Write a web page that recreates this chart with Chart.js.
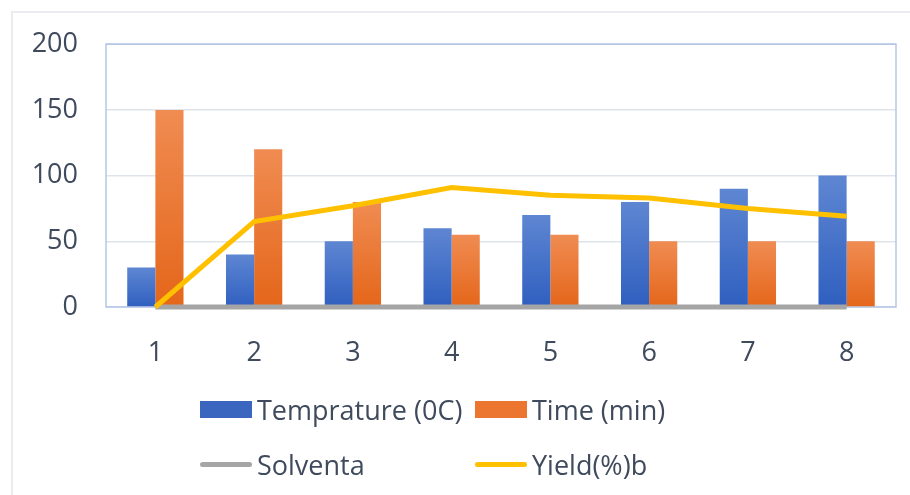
<!DOCTYPE html>
<html>
<head>
<meta charset="utf-8">
<script src="https://cdn.jsdelivr.net/npm/chart.js@4.4.0/dist/chart.umd.min.js"></script>
<style>
  html, body { margin: 0; padding: 0; background: #fff; }
  #wrap { position: relative; width: 910px; height: 495px; overflow: hidden; }
  #frame { position: absolute; left: 11px; top: 11px; width: 920px; height: 520px;
           border: 2px solid #e9ebef; box-sizing: border-box; }
  #chart { position: absolute; left: 0; top: 0; }
  #legend { position: absolute; left: 200px; top: 390px; display: grid;
            grid-template-columns: 275px auto; row-gap: 17px;
            font-family: "Open Sans", sans-serif; font-size: 27px; color: #3f4a5c; }
  .item { display: flex; align-items: center; height: 38px; }
  .swatch { width: 52px; margin-right: 5px; }
</style>
</head>
<body>
<div id="wrap">
  <div id="frame"></div>
  <canvas id="chart" width="910" height="495"></canvas>
  <div id="legend"></div>
</div>
<script>
const categories = ["1", "2", "3", "4", "5", "6", "7", "8"];
const temperature = [30, 40, 50, 60, 70, 80, 90, 100];
const time = [150, 120, 80, 55, 55, 50, 50, 50];
const solventa = [0, 0, 0, 0, 0, 0, 0, 0];
const yieldPct = [0, 65, 77, 91, 85, 83, 75, 69];
const yTicks = [0, 50, 100, 150, 200];

const textColor = "#3f4a5c";

// degradado vertical por barra (claro arriba, oscuro abajo)
function barGradient(light, dark, base) {
  return (ctx) => {
    const chart = ctx.chart;
    const area = chart.chartArea;
    if (!area || ctx.raw === undefined || !chart.scales.y) return base;
    const top = chart.scales.y.getPixelForValue(ctx.raw);
    if (!Number.isFinite(top) || top >= area.bottom) return base;
    const g = chart.ctx.createLinearGradient(0, top, 0, area.bottom);
    g.addColorStop(0, light);
    g.addColorStop(1, dark);
    return g;
  };
}

const plotBorder = {
  id: "plotBorder",
  beforeDatasetsDraw(chart) {
    const { ctx, chartArea: a } = chart;
    ctx.save();
    ctx.strokeStyle = "#b4c6e6";
    ctx.lineWidth = 1.5;
    ctx.strokeRect(a.left, a.top, a.right - a.left, a.bottom - a.top);
    ctx.restore();
  }
};

const chart = new Chart(document.getElementById("chart"), {
  type: "bar",
  data: {
    labels: categories,
    datasets: [
      {
        label: "Temprature (0C)",
        data: temperature,
        backgroundColor: barGradient("#5e86d2", "#2f5fbf", "#4472c4"),
        legendColor: "#3a66c0",
        categoryPercentage: 0.57,
        barPercentage: 1,
        order: 3
      },
      {
        label: "Time (min)",
        data: time,
        backgroundColor: barGradient("#f08c52", "#e4661a", "#ed7d31"),
        legendColor: "#ec7530",
        categoryPercentage: 0.57,
        barPercentage: 1,
        order: 3
      },
      {
        type: "line",
        label: "Solventa",
        data: solventa,
        borderColor: "#a5a5a5",
        borderWidth: 5,
        pointRadius: 0,
        clip: false,
        order: 2
      },
      {
        type: "line",
        label: "Yield(%)b",
        data: yieldPct,
        borderColor: "#ffc000",
        borderWidth: 5,
        pointRadius: 0,
        tension: 0,
        clip: false,
        order: 1
      }
    ]
  },
  options: {
    responsive: false,
    animation: false,
    layout: { padding: { top: 44, right: 14, bottom: 128, left: 20 } },
    plugins: {
      legend: { display: false },
      tooltip: { enabled: false }
    },
    scales: {
      x: {
        grid: { display: false },
        border: { display: false },
        ticks: {
          color: textColor,
          padding: 22,
          font: { family: "Open Sans", size: 27 }
        },
        afterFit: (s) => { s.height = 60; }
      },
      y: {
        min: 0,
        max: 200,
        afterBuildTicks: (s) => { s.ticks = yTicks.map((v) => ({ value: v })); },
        grid: { color: "#dfe3ea", lineWidth: 1.5, drawTicks: false },
        border: { display: false },
        ticks: {
          color: textColor,
          padding: 28,
          font: { family: "Open Sans", size: 27 }
        },
        afterFit: (s) => { s.width = 86; }
      }
    }
  },
  plugins: [plotBorder]
});

// leyenda en HTML para alinear las columnas como en el original
const legendEl = document.getElementById("legend");
chart.data.datasets.forEach((ds) => {
  const item = document.createElement("div");
  item.className = "item";
  const sw = document.createElement("span");
  sw.className = "swatch";
  if (ds.type === "line") {
    sw.style.height = "5px";
    sw.style.borderRadius = "3px";
    sw.style.background = ds.borderColor;
  } else {
    sw.style.height = "17px";
    sw.style.background = ds.legendColor;
  }
  const label = document.createElement("span");
  label.textContent = ds.label;
  item.appendChild(sw);
  item.appendChild(label);
  legendEl.appendChild(item);
});
</script>
</body>
</html>
